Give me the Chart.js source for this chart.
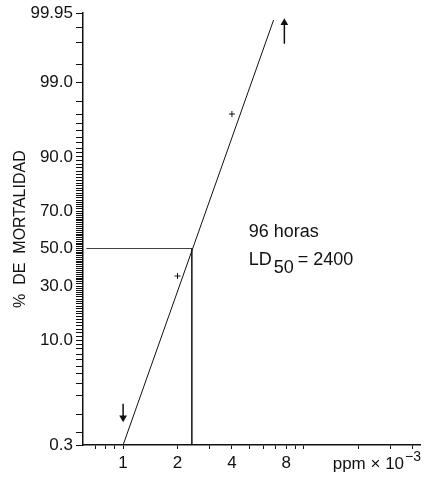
<!DOCTYPE html>
<html>
<head>
<meta charset="utf-8">
<script src="https://cdn.jsdelivr.net/npm/chart.js@4"></script>
<style>
  body { margin: 0; background: #fff; }
  #box { width: 432px; height: 477px; }
</style>
</head>
<body>
<div id="box"><canvas id="chart-probit" width="432" height="477"></canvas></div>
<script>
// y axis (probit scale, % mortality)
let yMajorPercents = [0.3, 10, 30, 50, 70, 90, 99, 99.95];
let yMajorLabels = ["0.3", "10.0", "30.0", "50.0", "70.0", "90.0", "99.0", "99.95"];
let yExtraPercents = [0.5, 99.5, 99.8, 99.9];

// x axis (log, ppm x 10^-3)
let xTickValues = [0.7, 0.8, 0.9, 1, 2, 3, 4, 5, 6, 7, 8, 9, 10, 20, 30, 40];
let xLabelValues = [1, 2, 4, 8];
let xLabels = ["1", "2", "4", "8"];

// fitted probit line
let lineDoses = [1, 6.8];
let linePercents = [0.3, 99.93];

// observed points
let obsDoses = [2, 4];
let obsPercents = [35, 97];

// LD50
let ld50Dose = 2.4;
let ld50Percent = 50;

// arrows (0% at dose 1, 100% at dose 8)
let arrowDoses = [1, 7.8];
let arrowFrom = [1.5, 99.79];
let arrowTo = [0.9, 99.92];

let xMin = 0.627;
let xMax = 43.9;

// inverse normal cdf (Acklam)
let probit = function (pct) {
  let p = pct / 100;
  let a = [-3.969683028665376e1, 2.209460984245205e2, -2.759285104469687e2, 1.38357751867269e2, -3.066479806614716e1, 2.506628277459239];
  let b = [-5.447609879822406e1, 1.615858368580409e2, -1.556989798598866e2, 6.680131188771972e1, -1.328068155288572e1];
  let c = [-7.784894002430293e-3, -3.223964580411365e-1, -2.400758277161838, -2.549732539343734, 4.374664141464968, 2.938163982698783];
  let d = [7.784695709041462e-3, 3.224671290700398e-1, 2.445134137142996, 3.754408661907416];
  let pl = 0.02425;
  let q, r;
  if (p < pl) {
    q = Math.sqrt(-2 * Math.log(p));
    return (((((c[0] * q + c[1]) * q + c[2]) * q + c[3]) * q + c[4]) * q + c[5]) /
      ((((d[0] * q + d[1]) * q + d[2]) * q + d[3]) * q + 1);
  }
  if (p > 1 - pl) {
    q = Math.sqrt(-2 * Math.log(1 - p));
    return -(((((c[0] * q + c[1]) * q + c[2]) * q + c[3]) * q + c[4]) * q + c[5]) /
      ((((d[0] * q + d[1]) * q + d[2]) * q + d[3]) * q + 1);
  }
  q = p - 0.5;
  r = q * q;
  return (((((a[0] * r + a[1]) * r + a[2]) * r + a[3]) * r + a[4]) * r + a[5]) * q /
    (((((b[0] * r + b[1]) * r + b[2]) * r + b[3]) * r + b[4]) * r + 1);
};

// all y tick marks: every 1% plus the extremes
let yTickPercents = [];
for (let p = 1; p <= 99; p++) yTickPercents.push(p);
yTickPercents = yTickPercents.concat(yExtraPercents, yMajorPercents);
yTickPercents = Array.from(new Set(yTickPercents)).sort(function (m, n) { return m - n; });
let yTickLabels = yTickPercents.map(function (p) {
  let i = yMajorPercents.indexOf(p);
  return i >= 0 ? yMajorLabels[i] : "";
});

let pt = function (dose, pct) {
  return { x: dose, y: probit(pct) };
};

let fontFamily = "'Liberation Sans', Arial, sans-serif";

let textPlugin = {
  id: "texts",
  afterDraw: function (chart) {
    let ctx = chart.ctx;
    let xs = chart.scales.x;
    let ys = chart.scales.y;
    ctx.save();
    ctx.fillStyle = "#111";
    ctx.textBaseline = "alphabetic";
    ctx.textAlign = "left";

    let tx = xs.getPixelForValue(4.95);
    ctx.font = "18px " + fontFamily;
    ctx.fillText("96 horas", tx, ys.getPixelForValue(probit(56.5)));

    let ly = ys.getPixelForValue(probit(41));
    ctx.fillText("LD", tx, ly);
    let w = ctx.measureText("LD").width;
    ctx.fillText("50", tx + w + 2, ly + 8);
    let w2 = ctx.measureText("50").width;
    ctx.fillText("= 2400", tx + w + w2 + 6, ly);

    // x axis caption
    let right = chart.chartArea.right + 1;
    let by = chart.chartArea.bottom + 24;
    ctx.textAlign = "right";
    ctx.font = "14px " + fontFamily;
    ctx.fillText("\u22123", right, by - 8);
    let sw = ctx.measureText("\u22123").width;
    ctx.font = "17px " + fontFamily;
    ctx.fillText("ppm \u00d7 10", right - sw - 1, by);
    ctx.restore();
  },
};

let chartDraw = function () {
  let ctx = document.getElementById("chart-probit").getContext("2d");

  new Chart(ctx, {
    type: "line",
    data: {
      datasets: [
        {
          data: lineDoses.map(function (d, i) { return pt(d, linePercents[i]); }),
          borderColor: "#111",
          borderWidth: 1,
          pointRadius: 0,
        },
        {
          data: [pt(xMin, ld50Percent), pt(ld50Dose, ld50Percent), pt(ld50Dose, yMajorPercents[0])],
          borderColor: "#111",
          borderWidth: 0.8,
          pointRadius: 0,
        },
        {
          type: "scatter",
          data: obsDoses.map(function (d, i) { return pt(d, obsPercents[i]); }),
          pointStyle: "cross",
          pointRadius: 3,
          borderColor: "#111",
          borderWidth: 1,
        },
        {
          data: [pt(arrowDoses[0], arrowFrom[0]), pt(arrowDoses[0], arrowTo[0])],
          borderColor: "#111",
          backgroundColor: "#111",
          borderWidth: 1.5,
          pointStyle: "triangle",
          pointRadius: [0, 3],
          pointRotation: [0, 180],
        },
        {
          data: [pt(arrowDoses[1], arrowFrom[1]), pt(arrowDoses[1], arrowTo[1])],
          borderColor: "#111",
          backgroundColor: "#111",
          borderWidth: 1.5,
          pointStyle: "triangle",
          pointRadius: [0, 3],
          pointRotation: [0, 0],
        },
      ],
    },
    options: {
      responsive: false,
      animation: false,
      layout: { padding: { top: 13, right: 12, left: 0, bottom: 0 } },
      plugins: {
        legend: { display: false },
        tooltip: { enabled: false },
      },
      scales: {
        x: {
          type: "logarithmic",
          min: xMin,
          max: xMax,
          afterBuildTicks: function (scale) {
            scale.ticks = xTickValues.map(function (v) { return { value: v }; });
          },
          afterFit: function (scale) {
            scale.height = 32;
          },
          ticks: {
            autoSkip: false,
            maxRotation: 0,
            padding: 4,
            color: "#111",
            font: { family: fontFamily, size: 17 },
            callback: function (value) {
              let i = xLabelValues.indexOf(Number(value));
              return i >= 0 ? xLabels[i] : "";
            },
          },
          grid: {
            drawOnChartArea: false,
            drawTicks: true,
            tickLength: 4,
            color: "#111",
          },
          border: { display: true, color: "#111", width: 1.5 },
        },
        y: {
          type: "linear",
          min: probit(yMajorPercents[0]),
          max: probit(yMajorPercents[yMajorPercents.length - 1]),
          afterBuildTicks: function (scale) {
            scale.ticks = yTickPercents.map(function (p) { return { value: probit(p) }; });
          },
          afterFit: function (scale) {
            scale.width = 83;
          },
          ticks: {
            autoSkip: false,
            padding: 3,
            color: "#111",
            font: { family: fontFamily, size: 17 },
            callback: function (value, index) {
              return yTickLabels[index];
            },
          },
          grid: {
            drawOnChartArea: false,
            drawTicks: true,
            tickLength: 7,
            color: "#111",
          },
          border: { display: true, color: "#111", width: 1.5 },
          title: {
            display: true,
            text: "%  DE  MORTALIDAD",
            color: "#111",
            font: { family: fontFamily, size: 16 },
            padding: { top: 11, bottom: 0 },
          },
        },
      },
    },
    plugins: [textPlugin],
  });
};

window.onload = function () {
  chartDraw();
};
</script>
</body>
</html>
